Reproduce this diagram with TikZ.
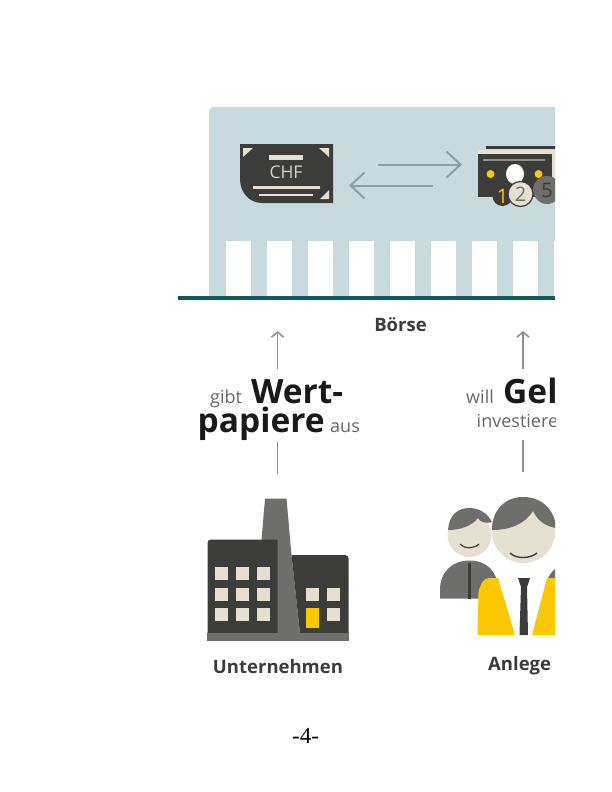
\documentclass[tikz,border=0pt]{standalone}
\usepackage{fontspec}
\setmainfont{Open Sans}
\newfontfamily\pagefont{Liberation Serif}
\usetikzlibrary{arrows.meta,positioning,calc}
\definecolor{panelblue}{HTML}{C9DADE}
\definecolor{railteal}{HTML}{0F5A5A}
\definecolor{inkdark}{HTML}{3C3C3A}
\definecolor{midgray}{HTML}{6E6E6C}
\definecolor{arrowgray}{HTML}{8F8F8F}
\definecolor{swapgray}{HTML}{8F9EA3}
\definecolor{cream}{HTML}{E5E0D2}
\definecolor{signal}{HTML}{FBC800}
\tikzset{
bigword/.style = {anchor=base west, inner sep=0pt, font=\bfseries\fontsize{33.5bp}{34bp}\selectfont, text=black!90},
smallword/.style = {anchor=base west, inner sep=0pt, font=\fontsize{18bp}{18bp}\selectfont, text=black!60},
caption/.style = {inner sep=0pt, font=\bfseries\fontsize{18.5bp}{19bp}\selectfont, text=inkdark},
window/.style = {draw=none, fill=cream, inner sep=0pt, minimum width=13bp, minimum height=13bp},
pillar/.style = {draw=none, fill=white, inner sep=0pt, minimum width=25bp, minimum height=56bp, anchor=north west},
coin/.style = {circle, inner sep=0pt, font=\fontsize{20bp}{20bp}\selectfont},
flow/.style = {draw=arrowgray, line width=1.6bp, -{Straight Barb[length=5bp,width=12bp]}},
stem/.style = {draw=arrowgray, line width=1.6bp},
swap/.style = {draw=swapgray, line width=2bp, -{Straight Barb[length=14bp,width=26bp]}}
}
\begin{document}
\begin{tikzpicture}[x=1bp,y=-1bp]
  \useasboundingbox (0,0) rectangle (612,792);
  \begin{scope}
  \clip (0,0) rectangle (555,792);

  % panel
  \fill [panelblue] (209,113) .. controls (209,109) and (211,107) .. (215,107) -- (600,107) -- (600,297) -- (209,297) -- cycle;
  \foreach \i in {0,...,8}
    \node [pillar] (pillar\i) at (226+41*\i,241) {};
  \fill [railteal] (178,296) rectangle (555,300);

  % banknote
  \fill [inkdark] (240,144) -- (333,144) -- (333,203) -- (262,203) .. controls (249,203) and (240,192) .. (240,179) -- cycle;
  \fill [cream] (243,148) -- (253,148) -- (243,157) -- cycle;
  \fill [cream] (319,148) -- (329,148) -- (329,157) -- cycle;
  \fill [cream] (329,190) -- (329,199) -- (320,199) -- cycle;
  \fill [cream] (269,155) rectangle (303,159.5);
  \fill [cream] (253,186) rectangle (320,189);
  \fill [cream] (259,193.5) rectangle (313,196);
  \node [inner sep=0pt, text=cream!85!gray, font=\fontsize{17.5bp}{17.5bp}\selectfont] (chf) at (286,172) {CHF};

  % swap arrows
  \coordinate (swapAstart) at (378,164.5);
  \coordinate (swapAend)   at (462,164.5);
  \coordinate (swapBstart) at (433,185.5);
  \coordinate (swapBend)   at (349,185.5);
  \draw [swap] (swapAstart) -- (swapAend);
  \draw [swap] (swapBstart) -- (swapBend);

  % money
  \fill [inkdark] (486,146) rectangle (560,148.5);
  \fill [cream] (478,150) rectangle (556,156);
  \fill [cream] (552,150) rectangle (556,190);
  \fill [inkdark] (478,154) rectangle (552,197);
  \fill [midgray!70!cream] (483,158.5) rectangle (545,160.5);
  \fill [signal] (490.5,174) circle (4);
  \fill [signal] (538.5,174) circle (4);
  \fill [white] (515,174) ellipse (9 and 10);
  \node [coin, fill=inkdark, minimum size=20bp, text=signal] (coinone) at (502.5,196) {1};
  \node [coin, fill=midgray, minimum size=28bp, text=inkdark] (coinfive) at (547,190) {5};
  \node [coin, fill=cream, draw=inkdark, line width=1.2bp, minimum size=25bp, text=midgray] (cointwo) at (520.5,194) {2};

  % labels
  \node [caption] (boerse) at (400.5,325) {Börse};
  \node [smallword] (gibt) at (210,403.5) {gibt};
  \node [bigword] (wert) at (251,403.5) {Wert-};
  \node [bigword] (papiere) at (197.5,432.5) {papiere};
  \node [smallword] (aus) at (330,432.5) {aus};
  \node [smallword] (will) at (466,403.5) {will};
  \node [bigword] (geld) at (503,403.5) {Gel};
  \node [smallword] (investieren) at (476.5,427) {investiere};

  % flows
  \coordinate (flowAtip) at (277.5,331);
  \coordinate (flowAtop) at (277.5,368.5);
  \coordinate (flowAlow) at (277.5,441.5);
  \coordinate (flowAbot) at (277.5,473.5);
  \coordinate (flowBtip) at (523,331);
  \coordinate (flowBtop) at (523,368.5);
  \coordinate (flowBlow) at (523,440);
  \coordinate (flowBbot) at (523,471.5);
  \draw [flow] (flowAtop) -- (flowAtip);
  \draw [stem] (flowAbot) -- (flowAlow);
  \draw [flow] (flowBtop) -- (flowBtip);
  \draw [stem] (flowBbot) -- (flowBlow);

  % factory
  \fill [midgray] (265,498.5) -- (286.5,498.5) -- (291.5,555) -- (300,634) -- (277,634) -- (277,540) -- (261.5,540) -- cycle;
  \fill [inkdark] (207.5,634) -- (207.5,543) .. controls (207.5,541) and (209,539.5) .. (211,539.5) -- (277.5,539.5) -- (277.5,634) -- cycle;
  \fill [inkdark] (300,634) -- (291.5,555) -- (345,555) .. controls (347,555) and (348.5,556.5) .. (348.5,558.5) -- (348.5,634) -- cycle;
  \fill [midgray] (207,633) rectangle (348.5,641);
  \foreach \c/\x in {a/221.5,b/242,c/263}
    \foreach \r/\y in {a/573.5,b/594,c/614.5}
      \node [window] (win\c\r) at (\x,\y) {};
  \node [window] (windb) at (312.5,594) {};
  \node [window] (wined) at (333.5,594) {};
  \node [window] (winee) at (333.5,614.5) {};
  \node [window, fill=signal, minimum height=20bp] (door) at (312.5,618) {};
  \node [caption] (unternehmen) at (278,666.5) {Unternehmen};

  % investors
  \fill [midgray] (440,598.5) -- (440,590) .. controls (440,572) and (452,560.5) .. (469.5,560.5) .. controls (487,560.5) and (498,572) .. (498,590) -- (498,598.5) -- cycle;
  \fill [inkdark] (468,563) rectangle (471,598.5);
  \fill [cream] (469.5,535) circle (22);
  \fill [midgray] (448,530) .. controls (449,515) and (458,508) .. (469,508) .. controls (480,508) and (488,514) .. (492,522) .. controls (485,524) and (480,522) .. (478,518) .. controls (472,526) and (460,530) .. (448,530) -- cycle;
  \draw [inkdark, line width=1.2bp] (460,544) .. controls (464,549) and (474,549) .. (479,544);

  \fill [midgray] (548,578) .. controls (551,572) and (555,568) .. (560,566) -- (560,580) -- cycle;
  \fill [cream] (523.5,530) ellipse (32 and 33);
  \fill [midgray] (492,530) .. controls (492,510) and (505,497) .. (523,497) .. controls (542,497) and (555,510) .. (556,528) .. controls (548,527) and (538,522) .. (533,511) .. controls (525,524) and (510,530) .. (492,530) -- cycle;
  \draw [inkdark, line width=1.4bp] (510,553) .. controls (516,559) and (530,559) .. (537,553);
  \fill [signal] (477.5,635) -- (478.5,593) .. controls (479,587) and (483,578) .. (489,578) -- (498,578) -- (515,635) -- cycle;
  \fill [signal] (532,635) -- (547,578) -- (560,578) -- (560,635) -- cycle;
  \fill [inkdark] (518,578) -- (530,578) -- (527,587) -- (528,635) -- (519.5,635) -- (521,587) -- cycle;
  \node [caption, anchor=west] (anleger) at (488,665.5) {Anlege};
  \end{scope}

  \node [inner sep=0pt, font=\pagefont\fontsize{23bp}{23bp}\selectfont] (pagenumber) at (305.5,736) {-4-};
\end{tikzpicture}
\end{document}
